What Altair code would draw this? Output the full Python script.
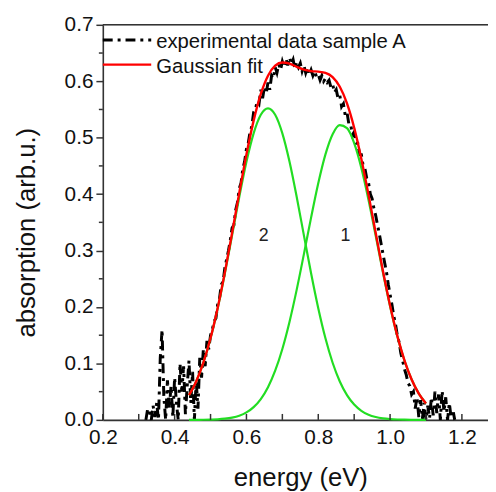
import altair as alt
import pandas as pd

# ---------------- data ----------------
# experimental absorption, sampled every 0.005 eV starting at 0.320 eV
exp_start = 0.320
exp_step = 0.005
exp_absorption = [
    0.000, 0.020, 0.015, 0.000, 0.025, 0.005, 0.030, 0.000, 0.110, 0.160,
    0.040, 0.000, 0.070, 0.020, 0.060, 0.005, 0.075, 0.030, 0.000, 0.100,
    0.050, 0.095, 0.010, 0.060, 0.105, 0.030, 0.085, 0.000, 0.070, 0.020,
    0.110, 0.075, 0.125, 0.095, 0.140, 0.125, 0.150,
    0.160, 0.175, 0.180, 0.205, 0.215, 0.240, 0.245, 0.270, 0.285, 0.300,
    0.318, 0.340, 0.345, 0.372, 0.385, 0.410, 0.420, 0.445, 0.458, 0.480,
    0.490, 0.510, 0.520, 0.545, 0.550, 0.565, 0.560, 0.585, 0.570, 0.590,
    0.578, 0.598, 0.585, 0.610, 0.605, 0.625, 0.615, 0.630, 0.620, 0.635,
    0.625, 0.640, 0.628, 0.642, 0.630, 0.638, 0.622, 0.635, 0.625, 0.632,
    0.618, 0.628, 0.615, 0.625, 0.612, 0.620, 0.610, 0.618, 0.608, 0.612,
    0.602, 0.610, 0.600, 0.605, 0.598, 0.602, 0.590, 0.595, 0.580, 0.585,
    0.570, 0.575, 0.555, 0.560, 0.540, 0.545, 0.525, 0.525, 0.505, 0.510,
    0.490, 0.490, 0.470, 0.470, 0.450, 0.445, 0.428, 0.420, 0.400, 0.392,
    0.375, 0.362, 0.345, 0.330, 0.312, 0.295, 0.278, 0.262, 0.240, 0.222,
    0.205, 0.185, 0.170, 0.150, 0.138, 0.118, 0.105, 0.090, 0.080, 0.065,
    0.060, 0.045, 0.050, 0.020, 0.040, 0.005, 0.035, 0.002, 0.030, 0.000,
    0.025, 0.003, 0.040, 0.008, 0.050, 0.012, 0.045, 0.000, 0.052, 0.015,
    0.040, 0.000, 0.030, 0.004, 0.018, 0.000,
]
exp_energy = [round(exp_start + exp_step * i, 3) for i in range(len(exp_absorption))]

# fit curves, sampled every 0.02 eV from 0.44 to 1.10 eV
fit_energy = [
    0.44, 0.46, 0.48, 0.50, 0.52, 0.54, 0.56, 0.58, 0.60, 0.62, 0.64, 0.66,
    0.68, 0.70, 0.72, 0.74, 0.76, 0.78, 0.80, 0.82, 0.84, 0.86, 0.88, 0.90,
    0.92, 0.94, 0.96, 0.98, 1.00, 1.02, 1.04, 1.06, 1.08, 1.10,
]
peak2 = [
    0.0438, 0.0680, 0.1012, 0.1445, 0.1978, 0.2597, 0.3270, 0.3948, 0.4572,
    0.5076, 0.5406, 0.5520, 0.5406, 0.5076, 0.4572, 0.3948, 0.3270, 0.2597,
    0.1978, 0.1445, 0.1012, 0.0680, 0.0438, 0.0271, 0.0160, 0.0091, 0.0050,
    0.0026, 0.0013, 0.0006, 0.0003, 0.0001, 0.0000, 0.0000,
]
peak1 = [
    0.0000, 0.0001, 0.0002, 0.0005, 0.0010, 0.0021, 0.0040, 0.0074, 0.0132,
    0.0226, 0.0369, 0.0579, 0.0871, 0.1257, 0.1740, 0.2308, 0.2937, 0.3583,
    0.4192, 0.4704, 0.5062, 0.5223, 0.5169, 0.4905, 0.4464, 0.3896, 0.3260,
    0.2617, 0.2014, 0.1486, 0.1052, 0.0715, 0.0465, 0.0290,
]
fit_total = [
    0.0438, 0.0681, 0.1014, 0.1450, 0.1988, 0.2618, 0.3310, 0.4022, 0.4704,
    0.5302, 0.5775, 0.6099, 0.6277, 0.6333, 0.6312, 0.6256, 0.6207, 0.6180,
    0.6170, 0.6149, 0.6074, 0.5903, 0.5607, 0.5176, 0.4624, 0.3987, 0.3310,
    0.2643, 0.2027, 0.1492, 0.1055, 0.0716, 0.0465, 0.0290,
]

peak_labels = ["2", "1"]
peak_label_x = [0.648, 0.876]
peak_label_y = [0.325, 0.325]

legend_labels = ["experimental data sample A", "Gaussian fit"]

x_tick_labels = [0.2, 0.4, 0.6, 0.8, 1.0, 1.2]
x_tick_marks = [0.2, 0.3, 0.4, 0.5, 0.6, 0.7, 0.8, 0.9, 1.0, 1.1, 1.2]
y_tick_labels = [0.0, 0.1, 0.2, 0.3, 0.4, 0.5, 0.6, 0.7]
y_minor_ticks = [0.05, 0.15, 0.25, 0.35, 0.45, 0.55, 0.65]

# ---------------- chart ----------------
W, H = 390, 400
FONT = "Liberation Sans"
AXC = "#333333"

xs = alt.Scale(domain=[0.2, 1.2727], nice=False, zero=False)
ys = alt.Scale(domain=[0.0, 0.7], nice=False, zero=False)

exp_df = pd.DataFrame({"energy": exp_energy, "absorption": exp_absorption})
fit_df = pd.DataFrame({"energy": fit_energy, "p1": peak1, "p2": peak2, "total": fit_total})

x_axis = alt.Axis(
    values=x_tick_labels, format=".1f", tickSize=0, labelFontSize=21,
    labelPadding=7, labelFont=FONT, labelColor="#111", labelFlush=False,
    labelOverlap=False, grid=False, domainColor=AXC, domainWidth=1.6,
    title="energy (eV)", titleFont=FONT, titleFontSize=26, titleFontWeight="normal",
    titleColor="#111", titleX=200, titleY=58, titleBaseline="middle", titleAlign="center",
)
y_axis = alt.Axis(
    values=y_tick_labels, format=".1f", tickSize=7, tickColor=AXC, tickWidth=1.5,
    labelFontSize=21, labelPadding=3, labelFont=FONT, labelColor="#111",
    labelFlush=False, labelOverlap=False, grid=False, domainColor=AXC, domainWidth=1.6,
    title="absorption (arb.u.)", titleFont=FONT, titleFontSize=26,
    titleFontWeight="normal", titleColor="#111", titleX=-77, titleY=210,
    titleAngle=270, titleAlign="center", titleBaseline="middle",
)

exp_line = alt.Chart(exp_df).mark_line(
    color="black", strokeWidth=3, strokeDash=[10, 5, 3, 5]
).encode(
    x=alt.X("energy:Q", scale=xs, axis=x_axis),
    y=alt.Y("absorption:Q", scale=ys, axis=y_axis),
)

g1 = alt.Chart(fit_df).mark_line(color="#22dd22", strokeWidth=2.2, interpolate="monotone").encode(
    x=alt.X("energy:Q", scale=xs), y=alt.Y("p1:Q", scale=ys)
)
g2 = alt.Chart(fit_df).mark_line(color="#22dd22", strokeWidth=2.2, interpolate="monotone").encode(
    x=alt.X("energy:Q", scale=xs), y=alt.Y("p2:Q", scale=ys)
)
tot = alt.Chart(fit_df).mark_line(color="#ff0000", strokeWidth=2.4, interpolate="monotone").encode(
    x=alt.X("energy:Q", scale=xs), y=alt.Y("total:Q", scale=ys)
)

lab_df = pd.DataFrame({"x": peak_label_x, "y": peak_label_y, "t": peak_labels})
labels = alt.Chart(lab_df).mark_text(
    font=FONT, fontSize=18, color="#222", align="center", baseline="middle"
).encode(x=alt.X("x:Q", scale=xs), y=alt.Y("y:Q", scale=ys), text="t:N")

xt_df = pd.DataFrame({"v": x_tick_marks})
x_ticks = alt.Chart(xt_df).mark_rule(color=AXC, strokeWidth=1.5).encode(
    x=alt.X("v:Q", scale=xs), y=alt.value(H), y2=alt.value(H - 6)
)
yt_df = pd.DataFrame({"v": y_minor_ticks})
y_ticks = alt.Chart(yt_df).mark_rule(color=AXC, strokeWidth=1.5).encode(
    y=alt.Y("v:Q", scale=ys), x=alt.value(-4), x2=alt.value(0)
)

one = pd.DataFrame({"a": [0]})
top_line = alt.Chart(one).mark_rule(color=AXC, strokeWidth=1.6).encode(
    x=alt.value(0), x2=alt.value(W), y=alt.value(0)
)
leg1_line = alt.Chart(one).mark_rule(color="black", strokeWidth=3, strokeDash=[10, 5, 3, 5]).encode(
    x=alt.value(0), x2=alt.value(49), y=alt.value(15.3)
)
leg2_line = alt.Chart(one).mark_rule(color="#ff0000", strokeWidth=2.4).encode(
    x=alt.value(0), x2=alt.value(49), y=alt.value(40.3)
)
leg_df1 = pd.DataFrame({"t": [legend_labels[0]]})
leg_df2 = pd.DataFrame({"t": [legend_labels[1]]})
leg1_text = alt.Chart(leg_df1).mark_text(
    font=FONT, fontSize=20.5, color="#111", align="left", baseline="alphabetic"
).encode(x=alt.value(54), y=alt.value(23), text="t:N")
leg2_text = alt.Chart(leg_df2).mark_text(
    font=FONT, fontSize=20.5, color="#111", align="left", baseline="alphabetic"
).encode(x=alt.value(54), y=alt.value(48.7), text="t:N")

chart = alt.layer(
    exp_line, g1, g2, tot, labels, x_ticks, y_ticks, top_line,
    leg1_line, leg2_line, leg1_text, leg2_text,
).properties(
    width=W, height=H,
    autosize=alt.AutoSizeParams(type="none"),
    padding={"left": 96, "top": 14, "right": 0, "bottom": 70},
).configure_view(stroke=None).configure(background="white")

chart.save("out.html", embed_options={"renderer": "svg", "actions": False})
